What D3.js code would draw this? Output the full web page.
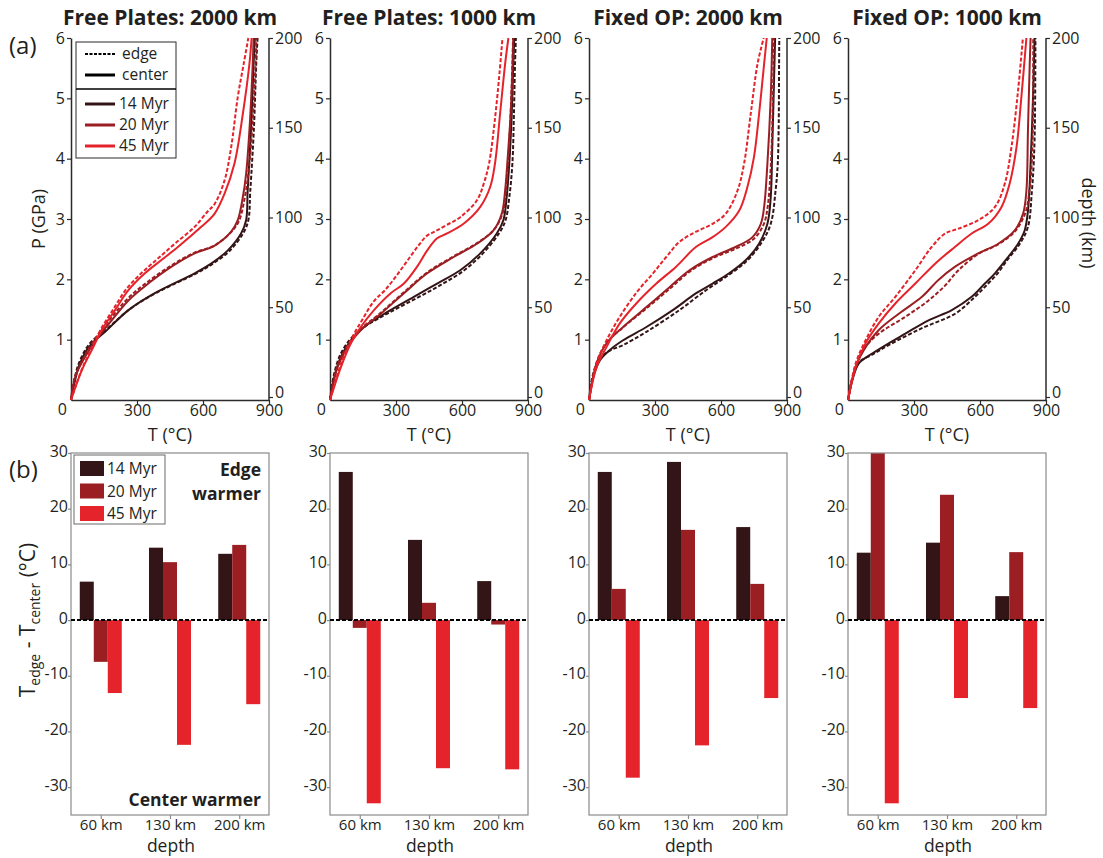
<!DOCTYPE html>
<html>
<head>
<meta charset="utf-8">
<script src="https://cdn.jsdelivr.net/npm/d3@7"></script>
<style>
  html, body { margin: 0; padding: 0; background: #fff; }
  svg { display: block; font-family: "Open Sans", "Noto Sans", sans-serif; }
  text { fill: #231f20; }
</style>
</head>
<body>
<svg id="fig" width="1103" height="858"></svg>
<script>
// ---------- shared labels ----------
const panelTitles = ["Free Plates: 2000 km", "Free Plates: 1000 km", "Fixed OP: 2000 km", "Fixed OP: 1000 km"];
const ages = ["14 Myr", "20 Myr", "45 Myr"];
const ageColors = ["#341517", "#9b1e23", "#e5232a"];
const depthCats = ["60 km", "130 km", "200 km"];
const pTicks = [1, 2, 3, 4, 5, 6];
const tTicks = [300, 600, 900];
const depthTicks = [0, 50, 100, 150, 200];
const diffTicks = [-30, -20, -10, 0, 10, 20, 30];

// ---------- geotherms: [T (°C), P (GPa)] ----------
// Free Plates: 2000 km
const fp2000_14_center = [[0,0],[12,0.22],[35,0.55],[72,0.83],[110,0.99],[155,1.13],[261,1.49],[381,1.77],[562,2.10],[637,2.26],[713,2.48],[773,2.76],[796,2.98],[803,3.47],[818,4.47],[830,5.57],[836,6]];
const fp2000_14_edge   = [[0,0],[10,0.25],[33,0.58],[70,0.86],[108,1.02],[155,1.15],[265,1.50],[390,1.78],[570,2.10],[645,2.26],[720,2.47],[782,2.76],[806,2.98],[815,3.47],[831,4.47],[842,5.57],[848,6]];
const fp2000_20_center = [[0,0],[20,0.39],[65,0.72],[125,1.05],[185,1.32],[261,1.65],[351,1.93],[457,2.21],[562,2.43],[653,2.56],[728,2.79],[758,2.98],[781,3.36],[796,3.75],[811,4.47],[826,5.57],[830,6]];
const fp2000_20_edge   = [[0,0],[20,0.40],[63,0.74],[120,1.07],[178,1.34],[252,1.66],[342,1.94],[452,2.22],[560,2.44],[652,2.56],[730,2.79],[765,2.98],[790,3.36],[806,3.75],[823,4.47],[839,5.57],[843,6]];
const fp2000_45_center = [[0,0],[50,0.50],[95,0.83],[140,1.16],[200,1.49],[261,1.82],[336,2.10],[411,2.32],[487,2.54],[592,2.87],[653,3.09],[698,3.42],[743,3.92],[781,4.74],[811,5.57],[821,6]];
const fp2000_45_edge   = [[0,0],[48,0.50],[92,0.84],[137,1.18],[195,1.52],[252,1.84],[325,2.12],[400,2.36],[475,2.60],[562,2.87],[620,3.12],[653,3.25],[698,3.64],[728,4.19],[758,5.02],[785,5.57],[806,6]];
// Free Plates: 1000 km
const fp1000_14_center = [[0,0],[20,0.39],[50,0.72],[95,0.99],[155,1.21],[261,1.46],[381,1.71],[487,1.93],[592,2.15],[683,2.43],[758,2.76],[788,2.98],[803,3.36],[815,3.92],[826,4.74],[833,5.57],[838,6]];
const fp1000_14_edge   = [[0,0],[18,0.42],[48,0.76],[95,1.02],[160,1.22],[275,1.46],[400,1.70],[510,1.92],[610,2.15],[695,2.43],[768,2.76],[798,2.98],[815,3.36],[829,3.92],[836,4.74],[841,5.57],[845,6]];
const fp1000_20_center = [[0,0],[35,0.55],[80,0.88],[140,1.16],[231,1.43],[336,1.77],[442,2.10],[562,2.37],[668,2.59],[743,2.81],[781,3.09],[796,3.47],[808,4.03],[821,4.74],[830,5.57],[833,6]];
const fp1000_20_edge   = [[0,0],[33,0.56],[78,0.89],[138,1.17],[229,1.44],[334,1.78],[440,2.11],[561,2.38],[668,2.60],[745,2.82],[784,3.09],[799,3.47],[811,4.03],[821,4.74],[829,5.57],[832,6]];
const fp1000_45_center = [[0,0],[50,0.55],[95,0.94],[140,1.21],[200,1.49],[276,1.77],[336,1.93],[396,2.21],[442,2.48],[487,2.68],[532,2.76],[607,2.92],[683,3.20],[728,3.53],[750,3.92],[773,4.74],[796,5.57],[811,6]];
const fp1000_45_edge   = [[0,0],[50,0.60],[100,1.03],[150,1.35],[200,1.64],[250,1.82],[300,2.05],[350,2.30],[400,2.55],[440,2.72],[480,2.80],[530,2.90],[592,3.03],[668,3.31],[700,3.60],[723,3.92],[748,4.60],[770,5.40],[784,6]];
// Fixed OP: 2000 km
const fo2000_14_center = [[0,0],[20,0.39],[50,0.66],[95,0.83],[155,0.99],[261,1.21],[381,1.49],[487,1.77],[562,1.93],[637,2.10],[713,2.32],[773,2.59],[811,2.92],[826,3.36],[833,4.19],[841,5.30],[846,6]];
const fo2000_14_edge   = [[0,0],[18,0.42],[48,0.68],[95,0.82],[155,0.91],[261,1.13],[411,1.49],[532,1.82],[622,2.04],[713,2.29],[781,2.59],[826,2.92],[848,3.47],[858,3.92],[862,4.47],[864,5.57],[865,6]];
const fo2000_20_center = [[0,0],[35,0.61],[80,0.94],[155,1.21],[261,1.54],[366,1.87],[457,2.15],[562,2.37],[668,2.54],[743,2.70],[781,2.92],[796,3.20],[811,3.92],[826,5.02],[833,6]];
const fo2000_20_edge   = [[0,0],[34,0.62],[80,0.95],[157,1.21],[265,1.53],[372,1.86],[462,2.14],[568,2.36],[675,2.52],[752,2.68],[795,2.92],[812,3.20],[827,3.92],[836,5.02],[840,6]];
const fo2000_45_center = [[0,0],[35,0.55],[80,0.88],[140,1.27],[215,1.60],[306,1.93],[396,2.21],[487,2.54],[562,2.70],[622,2.87],[683,3.14],[720,3.53],[750,4.03],[773,4.74],[796,5.57],[808,6]];
const fo2000_45_edge   = [[0,0],[35,0.61],[80,0.99],[140,1.38],[220,1.80],[291,2.10],[351,2.37],[411,2.62],[487,2.79],[562,2.92],[622,3.09],[675,3.47],[705,3.92],[735,4.74],[766,5.57],[794,6]];
// Fixed OP: 1000 km
const fo1000_14_center = [[0,0],[20,0.33],[50,0.61],[110,0.77],[185,0.94],[261,1.10],[366,1.32],[472,1.49],[562,1.71],[622,1.93],[668,2.10],[728,2.37],[773,2.59],[803,2.81],[818,3.14],[830,3.92],[841,5.02],[848,6]];
const fo1000_14_edge   = [[0,0],[18,0.34],[48,0.62],[110,0.75],[185,0.91],[336,1.19],[487,1.43],[577,1.71],[637,1.93],[680,2.10],[728,2.34],[781,2.59],[818,2.87],[836,3.47],[844,3.92],[849,4.47],[852,6]];
const fo1000_20_center = [[0,0],[35,0.55],[80,0.88],[140,1.16],[231,1.43],[336,1.71],[411,1.99],[487,2.21],[592,2.43],[683,2.59],[758,2.81],[796,3.09],[811,3.47],[818,4.47],[826,5.57],[830,6]];
const fo1000_20_edge   = [[0,0],[35,0.56],[80,0.88],[140,1.10],[261,1.38],[366,1.65],[442,1.90],[502,2.15],[592,2.42],[683,2.58],[760,2.80],[805,3.09],[825,3.47],[835,3.92],[840,4.47],[842,6]];
const fo1000_45_center = [[0,0],[35,0.55],[80,0.94],[140,1.27],[215,1.60],[306,1.93],[396,2.26],[487,2.54],[562,2.76],[637,2.92],[698,3.20],[735,3.59],[766,4.19],[788,5.02],[811,6]];
const fo1000_45_edge   = [[0,0],[35,0.61],[80,0.99],[140,1.38],[215,1.71],[306,2.15],[381,2.54],[442,2.76],[502,2.84],[592,2.98],[668,3.20],[713,3.59],[743,4.19],[773,5.13],[795,6]];

// ---------- T_edge - T_center (°C) at 60 / 130 / 200 km ----------
const fp2000_diff14 = [6.9, 13.0, 11.9];
const fp2000_diff20 = [-7.5, 10.4, 13.5];
const fp2000_diff45 = [-13.1, -22.4, -15.1];
const fp1000_diff14 = [26.6, 14.4, 7.0];
const fp1000_diff20 = [-1.4, 3.1, -0.8];
const fp1000_diff45 = [-32.9, -26.6, -26.8];
const fo2000_diff14 = [26.6, 28.4, 16.7];
const fo2000_diff20 = [5.6, 16.2, 6.5];
const fo2000_diff45 = [-28.3, -22.5, -14.0];
const fo1000_diff14 = [12.1, 13.9, 4.3];
const fo1000_diff20 = [30.0, 22.5, 12.2];
const fo1000_diff45 = [-32.9, -14.0, -15.8];

const geotherms = [
  [[fp2000_14_center, fp2000_14_edge], [fp2000_20_center, fp2000_20_edge], [fp2000_45_center, fp2000_45_edge]],
  [[fp1000_14_center, fp1000_14_edge], [fp1000_20_center, fp1000_20_edge], [fp1000_45_center, fp1000_45_edge]],
  [[fo2000_14_center, fo2000_14_edge], [fo2000_20_center, fo2000_20_edge], [fo2000_45_center, fo2000_45_edge]],
  [[fo1000_14_center, fo1000_14_edge], [fo1000_20_center, fo1000_20_edge], [fo1000_45_center, fo1000_45_edge]]
];
const diffs = [
  [fp2000_diff14, fp2000_diff20, fp2000_diff45],
  [fp1000_diff14, fp1000_diff20, fp1000_diff45],
  [fo2000_diff14, fo2000_diff20, fo2000_diff45],
  [fo1000_diff14, fo1000_diff20, fo1000_diff45]
];

// ---------- layout ----------
const svg = d3.select("#fig");
const panelLefts = [71, 330, 589, 848];
const panelW = 198;
const lineTop = 38, lineBottom = 400;
const barTop = 453, barBottom = 815;
const axisColor = "#2b2b2b";
const tickFont = 16;

svg.append("rect").attr("width", 1103).attr("height", 858).attr("fill", "#fff");

svg.append("text").attr("x", 9).attr("y", 54).attr("font-size", 24).text("(a)");
svg.append("text").attr("x", 9).attr("y", 478).attr("font-size", 24).text("(b)");

function styleAxis(g, color) {
  g.select(".domain").attr("stroke", color).attr("stroke-width", 1.5);
  g.selectAll(".tick line").attr("stroke", color).attr("stroke-width", 1.2);
  g.selectAll(".tick text").attr("font-size", tickFont).attr("fill", "#231f20")
    .attr("font-family", "'Open Sans', sans-serif");
}

panelLefts.forEach((x0, pi) => {
  // ----- (a) geotherm panel -----
  const xT = d3.scaleLinear().domain([0, 900]).range([x0, x0 + panelW]);
  const yP = d3.scaleLinear().domain([0, 6]).range([lineBottom, lineTop]);
  const yD = d3.scaleLinear().domain([0, 200]).range([lineBottom - 3, lineTop]);

  svg.append("text").attr("x", x0 + panelW / 2).attr("y", 25)
    .attr("text-anchor", "middle").attr("font-size", 21).attr("font-weight", 700)
    .text(panelTitles[pi]);

  const gl = svg.append("g").attr("transform", `translate(${x0},0)`)
    .call(d3.axisLeft(yP).tickValues(pTicks).tickSize(4).tickSizeOuter(0).tickPadding(2)
      .tickFormat(d => String(d)));
  styleAxis(gl, axisColor);
  const gb = svg.append("g").attr("transform", `translate(0,${lineBottom})`)
    .call(d3.axisBottom(xT).tickValues(tTicks).tickSize(4).tickSizeOuter(0).tickPadding(1)
      .tickFormat(d => String(d)));
  styleAxis(gb, axisColor);
  const gr = svg.append("g").attr("transform", `translate(${x0 + panelW},0)`)
    .call(d3.axisRight(yD).tickValues(depthTicks).tickSize(4).tickSizeOuter(0).tickPadding(2)
      .tickFormat(d => String(d)));
  styleAxis(gr, axisColor);
  gr.select(".domain").attr("d", `M0,${lineBottom}V${lineTop}`);
  gr.selectAll(".tick text").filter(d => d === 0).attr("dy", "0.05em");
  svg.append("text").attr("x", x0 - 4).attr("y", lineBottom + 15)
    .attr("text-anchor", "end").attr("font-size", tickFont).text("0");

  svg.append("text").attr("x", x0 + panelW / 2).attr("y", 441)
    .attr("text-anchor", "middle").attr("font-size", 18).text("T (°C)");

  const line = d3.line().x(d => xT(d[0])).y(d => yP(d[1])).curve(d3.curveCatmullRom.alpha(0.5));
  geotherms[pi].forEach((pair, ai) => {
    svg.append("path").datum(pair[0]).attr("d", line).attr("fill", "none")
      .attr("stroke", ageColors[ai]).attr("stroke-width", 2);
    svg.append("path").datum(pair[1]).attr("d", line).attr("fill", "none")
      .attr("stroke", ageColors[ai]).attr("stroke-width", 2).attr("stroke-dasharray", "4,2");
  });

  // ----- (b) temperature difference panel -----
  const xC = d3.scalePoint().domain(depthCats).range([x0, x0 + panelW]).padding(0.43);
  const xA = d3.scaleBand().domain(ages).range([-21, 21]);
  const yV = d3.scaleLinear().domain([-35, 30]).range([barBottom, barTop]);

  diffs[pi].forEach((vals, ai) => {
    svg.append("g").selectAll("rect").data(vals).join("rect")
      .attr("x", (d, i) => xC(depthCats[i]) + xA(ages[ai]))
      .attr("width", xA.bandwidth())
      .attr("y", d => yV(Math.max(0, d)))
      .attr("height", d => Math.abs(yV(d) - yV(0)))
      .attr("fill", ageColors[ai]);
  });

  svg.append("rect").attr("x", x0).attr("y", barTop).attr("width", panelW)
    .attr("height", barBottom - barTop).attr("fill", "none")
    .attr("stroke", "#8a8a8a").attr("stroke-width", 1.2);

  const gv = svg.append("g").attr("transform", `translate(${x0},0)`)
    .call(d3.axisLeft(yV).tickValues(diffTicks).tickSize(3).tickSizeOuter(0).tickPadding(0)
      .tickFormat(d => String(d)));
  styleAxis(gv, "#8a8a8a");
  gv.select(".domain").remove();
  gv.selectAll(".tick text").attr("dy", "0.2em");

  const gc = svg.append("g").attr("transform", `translate(0,${barBottom})`)
    .call(d3.axisBottom(xC).tickSize(4).tickSizeOuter(0).tickPadding(0));
  styleAxis(gc, "#8a8a8a");
  gc.selectAll(".tick text").attr("font-size", 15);
  gc.select(".domain").remove();

  svg.append("text").attr("x", x0 + panelW / 2 + 1).attr("y", 852)
    .attr("text-anchor", "middle").attr("font-size", 17.5).text("depth");

  svg.append("line").attr("x1", x0).attr("x2", x0 + panelW)
    .attr("y1", yV(0)).attr("y2", yV(0))
    .attr("stroke", "#000").attr("stroke-width", 2).attr("stroke-dasharray", "4,2");
});

// ----- axis titles -----
svg.append("text").attr("transform", `translate(45,219) rotate(-90)`)
  .attr("text-anchor", "middle").attr("font-size", 18).text("P (GPa)");
svg.append("text").attr("transform", `translate(1082,223) rotate(90)`)
  .attr("text-anchor", "middle").attr("font-size", 18).text("depth (km)");

const yl = svg.append("text").attr("transform", `translate(35,620) rotate(-90)`)
  .attr("text-anchor", "middle").attr("font-size", 21);
yl.append("tspan").text("T");
yl.append("tspan").attr("font-size", 14).attr("dy", 5).text("edge");
yl.append("tspan").attr("dy", -5).text(" - T");
yl.append("tspan").attr("font-size", 14).attr("dy", 5).text("center");
yl.append("tspan").attr("dy", -5).text(" (°C)");

// ----- legend of the geotherm panel -----
const lg = svg.append("g");
lg.append("rect").attr("x", 76).attr("y", 42).attr("width", 100).attr("height", 116)
  .attr("fill", "#fff").attr("stroke", "#2b2b2b").attr("stroke-width", 1);
lg.append("line").attr("x1", 76).attr("x2", 176).attr("y1", 89).attr("y2", 89)
  .attr("stroke", "#000").attr("stroke-width", 1.5);
const styleRows = [["edge", 54, "3,1.5", 2], ["center", 75, null, 3]];
styleRows.forEach(r => {
  const l = lg.append("line").attr("x1", 85).attr("x2", 115).attr("y1", r[1]).attr("y2", r[1])
    .attr("stroke", "#000").attr("stroke-width", r[3]);
  if (r[2]) l.attr("stroke-dasharray", r[2]);
  lg.append("text").attr("x", 122).attr("y", r[1] + 5).attr("font-size", 15.5).text(r[0]);
});
ages.forEach((a, i) => {
  const yy = 104 + i * 21;
  lg.append("line").attr("x1", 85).attr("x2", 115).attr("y1", yy).attr("y2", yy)
    .attr("stroke", ageColors[i]).attr("stroke-width", 3);
  lg.append("text").attr("x", 119).attr("y", yy + 5).attr("font-size", 15.5).text(a);
});

// ----- legend of the difference panel -----
const bl = svg.append("g");
bl.append("rect").attr("x", 74).attr("y", 455).attr("width", 91).attr("height", 69)
  .attr("fill", "#fff").attr("stroke", "#6a6a6a").attr("stroke-width", 1);
ages.forEach((a, i) => {
  const yy = 469 + i * 22.5;
  bl.append("rect").attr("x", 80).attr("y", yy - 8).attr("width", 24).attr("height", 15)
    .attr("fill", ageColors[i]);
  bl.append("text").attr("x", 107).attr("y", yy + 5).attr("font-size", 15.5).text(a);
});
svg.append("text").attr("x", 261).attr("y", 476).attr("text-anchor", "end")
  .attr("font-size", 17.5).attr("font-weight", 700).text("Edge");
svg.append("text").attr("x", 261).attr("y", 500).attr("text-anchor", "end")
  .attr("font-size", 17.5).attr("font-weight", 700).text("warmer");
svg.append("text").attr("x", 261).attr("y", 806).attr("text-anchor", "end")
  .attr("font-size", 17.5).attr("font-weight", 700).text("Center warmer");
</script>
</body>
</html>
